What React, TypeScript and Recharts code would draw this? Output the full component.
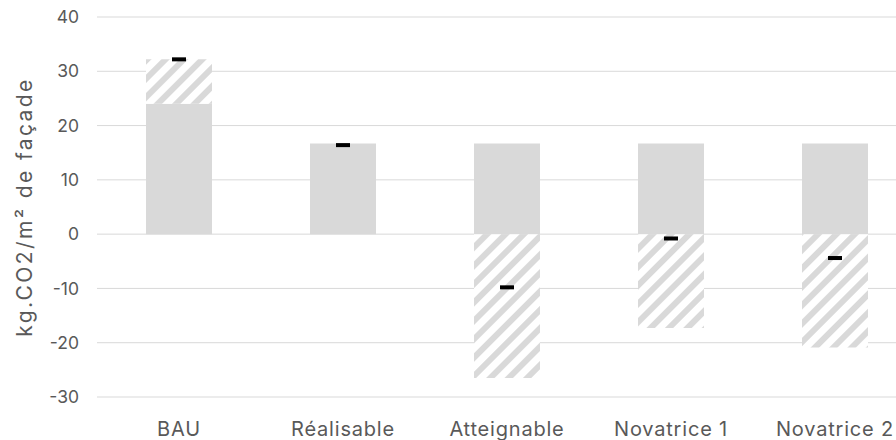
import { ComposedChart, Bar, Line, XAxis, YAxis, CartesianGrid } from "recharts";

const categories = ["BAU", "Réalisable", "Atteignable", "Novatrice 1", "Novatrice 2"];
const solidValues = [24, 16.7, 16.7, 16.7, 16.7];
const hatchValues = [8.2, 0, -26.5, -17.3, -20.9];
const totalValues = [32.2, 16.4, -9.8, -0.8, -4.4];
const yTicks = [-30, -20, -10, 0, 10, 20, 30, 40];

const data = categories.map((name, i) => ({
  name,
  solid: solidValues[i],
  hatch: hatchValues[i],
  total: totalValues[i],
}));

const GREY = "#d9d9d9";
const TEXT = "#595959";
const FONT = "Inter, 'Noto Sans', sans-serif";

// petit trait noir pour le total
const Marker = (props: any) => {
  const { cx, cy, index } = props;
  if (cx == null || cy == null) return <g key={index} />;
  return <rect key={index} x={cx - 7} y={cy - 2} width={14} height={4} fill="#000" />;
};

export default function App() {
  return (
    <div style={{ position: "absolute", left: 0, top: 0, width: 896, height: 440, overflow: "hidden", background: "#fff" }}>
      <svg width={0} height={0} style={{ position: "absolute" }}>
        <defs>
          <pattern id="hatch" width={13} height={13} patternUnits="userSpaceOnUse" patternTransform="rotate(45)">
            <rect x={0} y={0} width={13} height={13} fill="#fff" />
            <rect x={0} y={0} width={6} height={13} fill={GREY} />
          </pattern>
        </defs>
      </svg>
      <ComposedChart
        width={930}
        height={440}
        data={data}
        stackOffset="sign"
        margin={{ top: 17, right: 13, bottom: 0, left: 0 }}
      >
        <CartesianGrid vertical={false} stroke={GREY} strokeWidth={1} />
        <XAxis
          dataKey="name"
          axisLine={false}
          tickLine={false}
          height={43}
          tickMargin={19}
          interval={0}
          tick={{ fill: TEXT, fontSize: 20, fontFamily: FONT, letterSpacing: 0.8 }}
        />
        <YAxis
          domain={[-30, 40]}
          ticks={yTicks}
          width={97}
          axisLine={false}
          tickLine={false}
          tickMargin={12}
          tick={{ fill: TEXT, fontSize: 17.5, fontFamily: FONT }}
          label={{
            content: () => (
              <text
                x={24}
                y={207}
                transform="rotate(-90 24 207)"
                textAnchor="middle"
                dominantBaseline="central"
                fill={TEXT}
                fontSize={21}
                letterSpacing={2.4}
                fontFamily={FONT}
              >
                kg.CO2/m² de façade
              </text>
            ),
          }}
        />
        <Bar dataKey="solid" stackId="a" fill={GREY} barSize={66} isAnimationActive={false} />
        <Bar dataKey="hatch" stackId="a" fill="url(#hatch)" barSize={66} isAnimationActive={false} />
        <Line dataKey="total" stroke="none" dot={Marker} activeDot={false} isAnimationActive={false} />
      </ComposedChart>
    </div>
  );
}
